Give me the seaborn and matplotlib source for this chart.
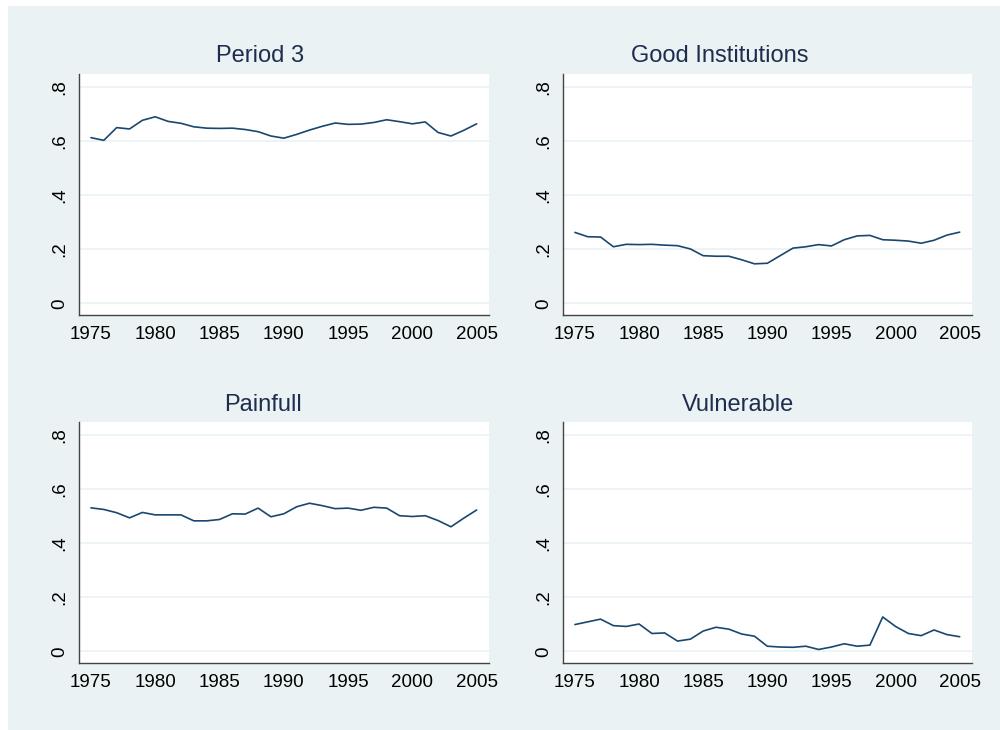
import numpy as np
import pandas as pd
import matplotlib
matplotlib.use("Agg")
import matplotlib.pyplot as plt
import seaborn as sns

years = list(range(1975, 2006))

period3 = [0.612, 0.602, 0.649, 0.644, 0.676, 0.689, 0.672, 0.665, 0.652, 0.647,
           0.646, 0.647, 0.642, 0.634, 0.618, 0.610, 0.624, 0.640, 0.654, 0.666,
           0.661, 0.662, 0.668, 0.678, 0.671, 0.663, 0.670, 0.631, 0.618, 0.639,
           0.663]
good_inst = [0.262, 0.246, 0.245, 0.209, 0.218, 0.217, 0.218, 0.215, 0.213, 0.201,
             0.176, 0.174, 0.174, 0.161, 0.146, 0.148, 0.176, 0.204, 0.209, 0.217,
             0.212, 0.235, 0.249, 0.251, 0.235, 0.233, 0.230, 0.222, 0.233, 0.252,
             0.263]
painfull = [0.530, 0.524, 0.512, 0.493, 0.513, 0.504, 0.504, 0.504, 0.482, 0.482,
            0.487, 0.508, 0.507, 0.529, 0.497, 0.508, 0.534, 0.547, 0.538, 0.527,
            0.529, 0.521, 0.532, 0.529, 0.501, 0.498, 0.501, 0.483, 0.460, 0.492,
            0.522]
vulnerable = [0.099, 0.109, 0.119, 0.095, 0.092, 0.101, 0.066, 0.068, 0.038, 0.045,
              0.075, 0.089, 0.082, 0.064, 0.056, 0.019, 0.016, 0.015, 0.019, 0.007,
              0.016, 0.028, 0.019, 0.023, 0.127, 0.092, 0.066, 0.058, 0.079, 0.062,
              0.054]

titles = ["Period 3", "Good Institutions", "Painfull", "Vulnerable"]
series = [period3, good_inst, painfull, vulnerable]
xticks = [1975, 1980, 1985, 1990, 1995, 2000, 2005]
yticks = [0, 0.2, 0.4, 0.6, 0.8]
ylabels = ["0", ".2", ".4", ".6", ".8"]

bg = "#EAF2F3"
navy = "#1A476F"

sns.set_style("white")
plt.rcParams["font.family"] = ["Liberation Sans", "DejaVu Sans"]

fig = plt.figure(figsize=(10, 7.3), dpi=100)
fig.patch.set_facecolor("white")
fig.patches.append(plt.Rectangle((8 / 1000, 0), 992 / 1000, 724 / 730,
                                 transform=fig.transFigure, facecolor=bg,
                                 edgecolor="none", zorder=-10))

# axes positions in pixels: left, top, right, bottom
boxes = [(79, 74, 489, 315), (563, 74, 972, 315),
         (79, 422, 489, 663), (563, 422, 972, 663)]
# title centres in pixels (x, y)
title_pos = [(260, 56), (720, 56), (263, 405), (738, 405)]

for (l, t, r, b), title, vals, (tx, ty) in zip(boxes, titles, series, title_pos):
    ax = fig.add_axes([l / 1000, 1 - b / 730, (r - l) / 1000, (b - t) / 730])
    ax.set_facecolor("white")
    df = pd.DataFrame({"year": years, "share": vals})
    sns.lineplot(data=df, x="year", y="share", ax=ax, color=navy, linewidth=1.2)
    ax.set_xlim(1974.07, 2005.96)
    ax.set_ylim(-0.043, 0.847)
    ax.set_xticks(xticks)
    ax.set_yticks(yticks)
    ax.set_yticklabels(ylabels, rotation=90, va="center")
    ax.tick_params(axis="both", direction="out", length=6, width=1,
                   color="#444444", labelsize=13.5, labelcolor="black", pad=2)
    ax.grid(axis="y", color=bg, linewidth=1.2)
    ax.set_axisbelow(True)
    ax.set_xlabel("")
    ax.set_ylabel("")
    for s in ["top", "right"]:
        ax.spines[s].set_visible(False)
    for s in ["left", "bottom"]:
        ax.spines[s].set_color("#444444")
        ax.spines[s].set_linewidth(1)
    fig.text(tx / 1000, 1 - ty / 730, title, fontsize=17, color="#1E2D4F",
             ha="center", va="center")

fig.savefig("out.png", dpi=100)
